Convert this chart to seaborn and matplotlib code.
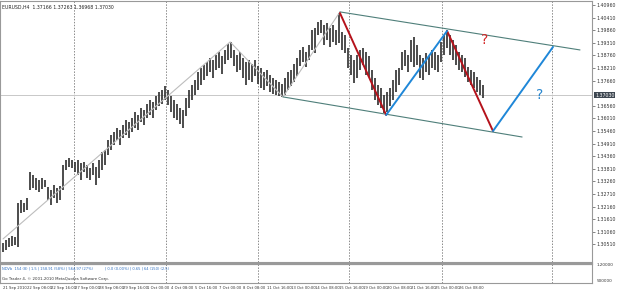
import numpy as np
import pandas as pd
import matplotlib
matplotlib.use("Agg")
import matplotlib.pyplot as plt
import seaborn as sns

# ---------------- data ----------------
highs = [1.3057, 1.3070, 1.3079, 1.3088, 1.3083, 1.3232, 1.3245, 1.3232, 1.3254, 1.3367,
         1.3354, 1.3341, 1.3332, 1.3341, 1.3332, 1.3302, 1.3289, 1.3310, 1.3297, 1.3306,
         1.3398, 1.3420, 1.3428, 1.3420, 1.3411, 1.3420, 1.3407, 1.3411, 1.3398, 1.3385,
         1.3407, 1.3389, 1.3420, 1.3455, 1.3463, 1.3507, 1.3529, 1.3542, 1.3559, 1.3551,
         1.3572, 1.3594, 1.3585, 1.3603, 1.3629, 1.3616, 1.3647, 1.3638, 1.3664, 1.3682,
         1.3673, 1.3699, 1.3716, 1.3725, 1.3743, 1.3725, 1.3699, 1.3682, 1.3664, 1.3647,
         1.3638, 1.3690, 1.3725, 1.3747, 1.3769, 1.3804, 1.3821, 1.3834, 1.3847, 1.3865,
         1.3856, 1.3878, 1.3891, 1.3874, 1.3900, 1.3926, 1.3935, 1.3900, 1.3878, 1.3891,
         1.3865, 1.3847, 1.3856, 1.3839, 1.3856, 1.3830, 1.3821, 1.3804, 1.3812, 1.3791,
         1.3778, 1.3769, 1.3760, 1.3751, 1.3778, 1.3804, 1.3812, 1.3839, 1.3865, 1.3900,
         1.3913, 1.3891, 1.3922, 1.3987, 1.3996, 1.4022, 1.4031, 1.4009, 1.4018, 1.3996,
         1.4009, 1.3987, 1.4061, 1.3978, 1.3965, 1.3909, 1.3878, 1.3856, 1.3878, 1.3900,
         1.3909, 1.3891, 1.3874, 1.3812, 1.3778, 1.3747, 1.3734, 1.3703, 1.3716, 1.3734,
         1.3769, 1.3812, 1.3821, 1.3891, 1.3900, 1.3878, 1.3943, 1.3957, 1.3922, 1.3878,
         1.3865, 1.3887, 1.3874, 1.3900, 1.3891, 1.3878, 1.3935, 1.3965, 1.3987, 1.3965,
         1.3943, 1.3922, 1.3891, 1.3878, 1.3865, 1.3826, 1.3812, 1.3804, 1.3782, 1.3769,
         1.3747]
lows = [1.3018, 1.3027, 1.3040, 1.3044, 1.3049, 1.3040, 1.3188, 1.3193, 1.3201, 1.3289,
        1.3297, 1.3289, 1.3280, 1.3293, 1.3302, 1.3245, 1.3223, 1.3254, 1.3232, 1.3245,
        1.3289, 1.3376, 1.3389, 1.3385, 1.3367, 1.3354, 1.3332, 1.3367, 1.3341, 1.3332,
        1.3354, 1.3310, 1.3341, 1.3376, 1.3398, 1.3441, 1.3463, 1.3485, 1.3507, 1.3485,
        1.3516, 1.3529, 1.3516, 1.3542, 1.3559, 1.3551, 1.3585, 1.3572, 1.3603, 1.3616,
        1.3603, 1.3638, 1.3655, 1.3664, 1.3682, 1.3660, 1.3629, 1.3603, 1.3594, 1.3577,
        1.3559, 1.3612, 1.3647, 1.3682, 1.3703, 1.3725, 1.3747, 1.3769, 1.3786, 1.3804,
        1.3778, 1.3812, 1.3821, 1.3795, 1.3839, 1.3856, 1.3865, 1.3830, 1.3804, 1.3812,
        1.3778, 1.3747, 1.3769, 1.3760, 1.3786, 1.3751, 1.3734, 1.3725, 1.3743, 1.3716,
        1.3708, 1.3703, 1.3699, 1.3695, 1.3703, 1.3725, 1.3743, 1.3760, 1.3786, 1.3830,
        1.3847, 1.3826, 1.3856, 1.3900, 1.3887, 1.3965, 1.3974, 1.3922, 1.3943, 1.3913,
        1.3935, 1.3922, 1.3930, 1.3900, 1.3887, 1.3821, 1.3791, 1.3756, 1.3778, 1.3812,
        1.3834, 1.3791, 1.3782, 1.3725, 1.3682, 1.3660, 1.3647, 1.3625, 1.3629, 1.3655,
        1.3682, 1.3716, 1.3747, 1.3812, 1.3830, 1.3804, 1.3847, 1.3826, 1.3834, 1.3778,
        1.3769, 1.3804, 1.3791, 1.3821, 1.3812, 1.3804, 1.3847, 1.3878, 1.3909, 1.3878,
        1.3856, 1.3834, 1.3812, 1.3804, 1.3782, 1.3760, 1.3747, 1.3734, 1.3716, 1.3703,
        1.3690]

time_labels = ["21 Sep 2010", "22 Sep 08:00", "22 Sep 16:00", "27 Sep 00:00", "28 Sep 08:00",
               "29 Sep 16:00", "1 Oct 00:00", "4 Oct 08:00", "5 Oct 16:00", "7 Oct 00:00",
               "8 Oct 08:00", "11 Oct 16:00", "13 Oct 00:00", "14 Oct 08:00", "15 Oct 16:00",
               "19 Oct 00:00", "20 Oct 08:00", "21 Oct 16:00", "25 Oct 00:00", "26 Oct 08:00"]

current_price = 1.3703

# trend objects (bar index, price)
gray_zz_x = [0.0, 75.7, 93.3, 112.3]
gray_zz_y = [1.3075, 1.3935, 1.3695, 1.4066]
red1_x, red1_y = [112.3, 127.7], [1.4061, 1.3616]
blue1_x, blue1_y = [127.7, 148.0], [1.3616, 1.3983]
red2_x, red2_y = [148.0, 163.3], [1.3983, 1.3546]
blue2_x, blue2_y = [163.3, 183.3], [1.3546, 1.3913]
chan_up_x, chan_up_y = [112.3, 192.3], [1.4066, 1.3900]
chan_lo_x, chan_lo_y = [93.3, 173.0], [1.3695, 1.3520]
separators = [23.7, 54.3, 85.0, 115.3, 146.3, 183.0]

# ---------------- figure ----------------
sns.set_style("white")
plt.rcParams['font.family'] = ['DejaVu Sans']

W, H = 625, 291
fig = plt.figure(figsize=(W / 100, H / 100), dpi=100)
fig.patch.set_facecolor("white")

def px_axes(x0, y0, x1, y1):
    return fig.add_axes([x0 / W, 1 - y1 / H, (x1 - x0) / W, (y1 - y0) / H])

ax = px_axes(0, 1, 592, 262)
ax2 = px_axes(0, 264, 592, 283)

XMIN, XMAX = -1.0, 196.3
ymax = 1.4118 - 0.0004365 * 1
ymin = 1.4118 - 0.0004365 * 262
ax.set_xlim(XMIN, XMAX)
ax.set_ylim(ymin, ymax)

idx = np.arange(len(highs))
ax.vlines(idx, lows, highs, color="#2e2e2e", lw=1.2, zorder=3)

for s in separators:
    ax.axvline(s, color="#8a8a8a", lw=0.7, ls=(0, (1.5, 1.5)), zorder=1)
    ax2.axvline(s, color="#8a8a8a", lw=0.7, ls=(0, (1.5, 1.5)), zorder=1)

ax.axhline(current_price, color="#c8c8c8", lw=0.7, zorder=1)

def seg(xs, ys, color, lw):
    df = pd.DataFrame({"x": xs, "y": ys})
    sns.lineplot(data=df, x="x", y="y", ax=ax, color=color, lw=lw, sort=False,
                 estimator=None, zorder=4)

seg(gray_zz_x, gray_zz_y, "#bdbdbd", 0.8)
seg(chan_up_x, chan_up_y, "#4f7f7a", 0.8)
seg(chan_lo_x, chan_lo_y, "#4f7f7a", 0.8)
seg(red1_x, red1_y, "#b5121b", 1.4)
seg(red2_x, red2_y, "#b5121b", 1.4)
seg(blue1_x, blue1_y, "#1f87d8", 1.4)
seg(blue2_x, blue2_y, "#1f87d8", 1.4)

ax.text(160.6, 1.3943, "?", color="#d42a2a", fontsize=10, ha="center", va="center", zorder=5)
ax.text(179.0, 1.3703, "?", color="#2a88d0", fontsize=10, ha="center", va="center", zorder=5)

ax.set_xlabel("")
ax.set_ylabel("")
ax.set_xticks([])
ax.yaxis.tick_right()
yt = [1.40960 - 0.0055 * k for k in range(20)]
yt = [v for v in yt if abs(v - current_price) > 0.0025]
ax.set_yticks(yt)
ax.set_yticklabels([f"{v:.5f}" for v in yt], fontsize=3.4, color="#333333")
ax.tick_params(axis="y", length=2, width=0.5, pad=1.5, colors="#555555", labelcolor="#333333")
for sp in ax.spines.values():
    sp.set_color("#999999")
    sp.set_linewidth(0.8)

ax.text(0.004, 0.985, "EURUSD,H4  1.37166 1.37263 1.36968 1.37030", transform=ax.transAxes,
        fontsize=3.3, color="#222222", ha="left", va="top")

# current price marker box
ax.text(1.005, current_price, f"{current_price:.5f}", transform=ax.get_yaxis_transform(),
        fontsize=3.4, color="white", ha="left", va="center",
        bbox=dict(boxstyle="square,pad=0.15", fc="#3d4650", ec="none"), clip_on=False)

# lower panel
ax2.set_xlim(XMIN, XMAX)
ax2.set_ylim(0, 1)
ax2.set_yticks([])
ax2.set_xticks([8 * k for k in range(len(time_labels))])
ax2.set_xticklabels(time_labels, fontsize=2.7, color="#333333", ha="left")
ax2.tick_params(axis="x", length=1.5, width=0.5, pad=0.6, colors="#555555", labelcolor="#333333")
for sp in ax2.spines.values():
    sp.set_color("#999999")
    sp.set_linewidth(0.8)
ax2.spines["top"].set_linewidth(1.6)
ax2.text(0.004, 0.88, "NDVb  154 (8) | 1.5 | 158.91 (58%) | 564.97 (27%)", transform=ax2.transAxes,
         fontsize=2.6, color="#2f6fc0", ha="left", va="top")
ax2.text(0.178, 0.88, "| 0.0 (0.00%) | 0.65 | 64 (150) (2.5)", transform=ax2.transAxes,
         fontsize=2.6, color="#2f6fc0", ha="left", va="top")
ax2.text(0.004, 0.08, "Go Trader 4, \u00a9 2001-2010 MetaQuotes Software Corp.", transform=ax2.transAxes,
         fontsize=2.8, color="#333333", ha="left", va="bottom")
ax2.text(1.008, 0.95, "1.20000", transform=ax2.transAxes, fontsize=3.0, color="#333333",
         ha="left", va="center")
ax2.text(1.008, 0.12, "500000", transform=ax2.transAxes, fontsize=3.0, color="#333333",
         ha="left", va="center")

fig.savefig("out.png", dpi=100, facecolor="white")
